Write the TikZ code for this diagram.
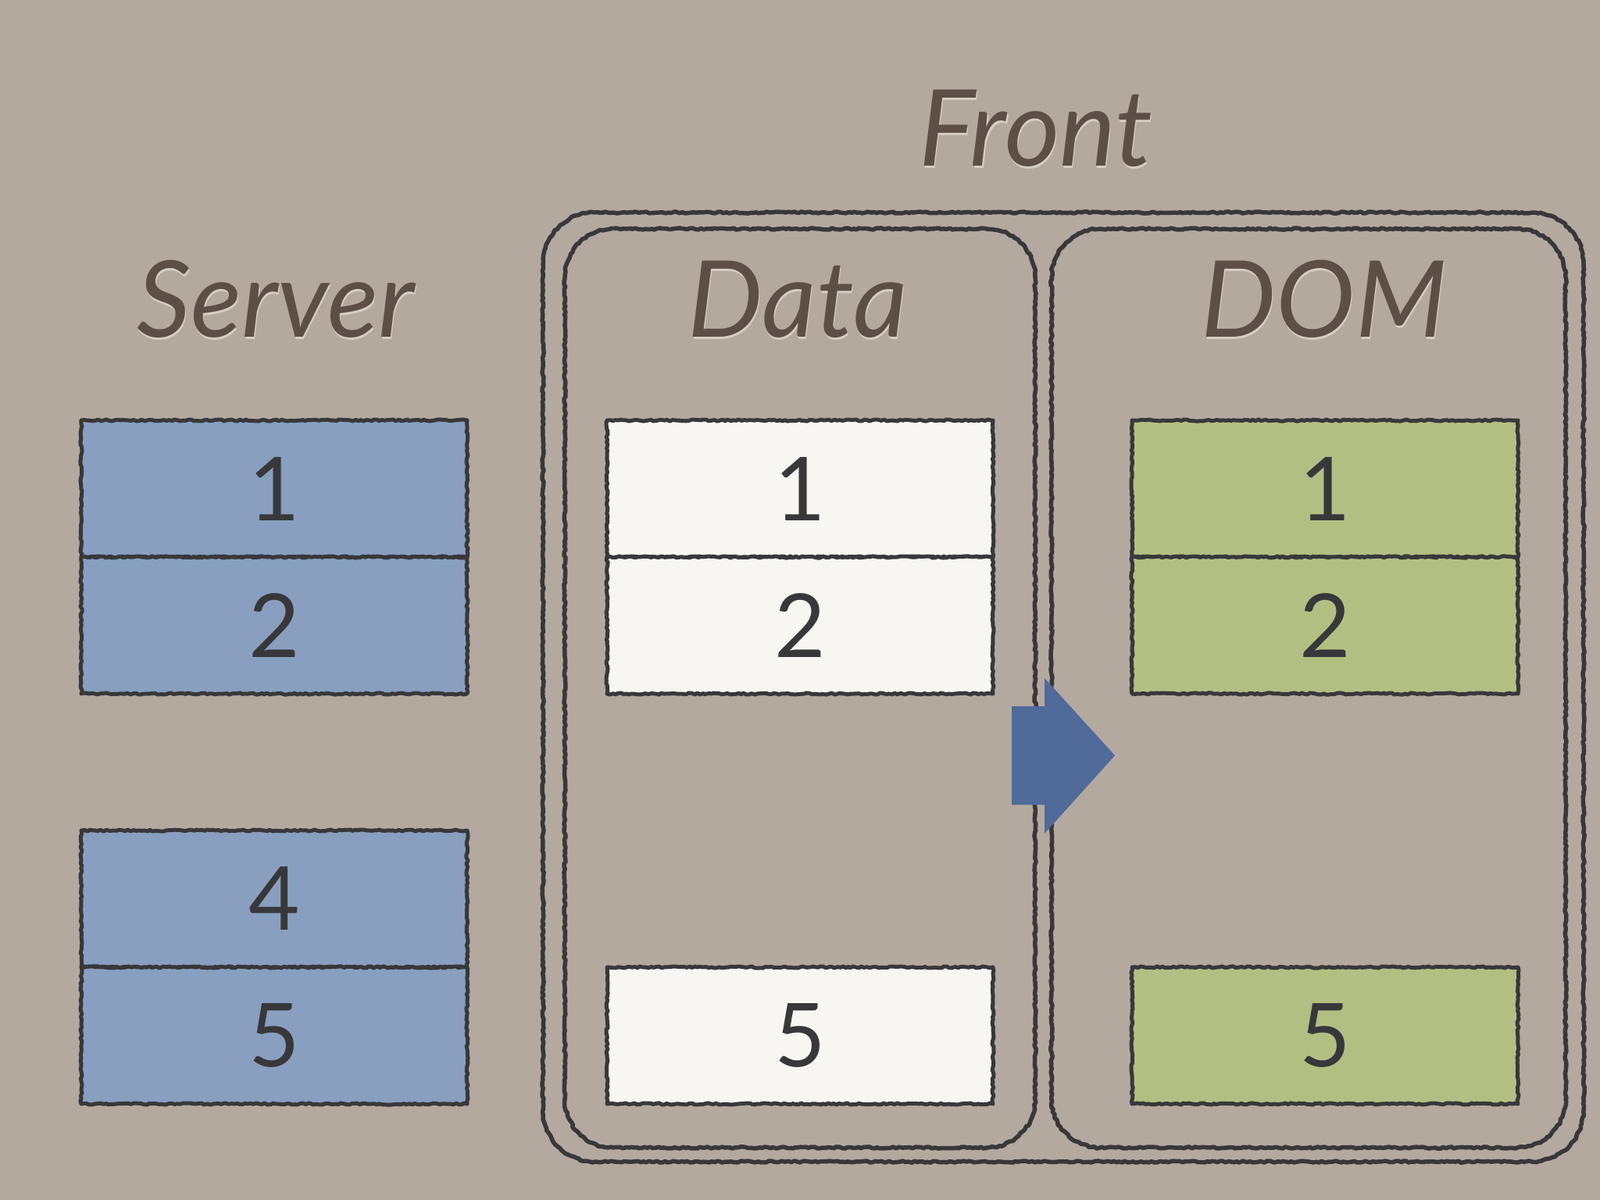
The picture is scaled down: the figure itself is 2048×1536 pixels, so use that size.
\documentclass[tikz,border=0pt]{standalone}
\usepackage{fontspec}
\setmainfont{Lato}
\usetikzlibrary{decorations.pathmorphing}
\definecolor{bg}{HTML}{B3A99F}
\definecolor{ink}{HTML}{38383A}
\definecolor{title}{HTML}{5B4F48}
\definecolor{glow}{HTML}{D6CEC4}
\definecolor{srvblue}{HTML}{889FBF}
\definecolor{datwhite}{HTML}{F8F6F3}
\definecolor{domgreen}{HTML}{B3BF82}
\definecolor{arrowblue}{HTML}{506A9A}
\tikzset{
  sketch/.style={decorate, decoration={random steps, segment length=3.5pt, amplitude=1.1pt}},
  frameline/.style={draw=ink, line width=5.5pt, line join=round, sketch},
  rowbox/.style={draw=ink, line width=5pt, line join=round, sketch, minimum width=494pt, minimum height=175pt,
    inner sep=0pt, text=ink, font=\fontsize{113}{120}\selectfont},
  srv/.style={rowbox, fill=srvblue},
  dat/.style={rowbox, fill=datwhite},
  dom/.style={rowbox, fill=domgreen},
  ttl/.style={anchor=base, inner sep=0pt, text=title, font=\fontsize{136}{140}\selectfont\itshape},
  ttlglow/.style={anchor=base, inner sep=0pt, text=glow, font=\fontsize{136}{140}\selectfont\itshape},
}
% rounded frame drawn with explicit corner curves: x1 y1 x2 y2 r
\newcommand\myrrect[5]{%
  \pgfmathsetmacro\ra{#5}%
  \pgfmathsetmacro\rk{0.448*#5}%
  \draw[frameline]
    ({#1+\ra},#2) -- ({#3-\ra},#2)
    .. controls ({#3-\rk},#2) and (#3,{#2+\rk}) .. (#3,{#2+\ra})
    -- (#3,{#4-\ra})
    .. controls (#3,{#4-\rk}) and ({#3-\rk},#4) .. ({#3-\ra},#4)
    -- ({#1+\ra},#4)
    .. controls ({#1+\rk},#4) and (#1,{#4-\rk}) .. (#1,{#4-\ra})
    -- (#1,{#2+\ra})
    .. controls (#1,{#2+\rk}) and ({#1+\rk},#2) .. ({#1+\ra},#2) -- cycle;}
\begin{document}
\begin{tikzpicture}[x=1pt,y=-1pt]
\useasboundingbox (0,0) rectangle (2048,1536);
\fill[bg] (0,0) rectangle (2048,1536);

% frames
\myrrect{695}{272}{2027}{1487}{66}
\myrrect{723}{293}{1325}{1469}{62}
\myrrect{1346}{293}{2004}{1469}{62}

% titles
\node[ttlglow] (frontg) at (1327,215) {Front};
\node[ttl] (front) at (1326,212) {Front};
\node[ttlglow] (serverg) at (354,434) {Server};
\node[ttl] (server) at (353,431) {Server};
\node[ttlglow] (datag) at (1022,434) {Data};
\node[ttl] (data) at (1021,431) {Data};
\node[ttlglow] (domg) at (1696,434) {DOM};
\node[ttl] (dom) at (1695,431) {DOM};

% server column
\node[srv] (s1) at (351,625.5) {1};
\node[srv] (s2) at (351,800.5) {2};
\node[srv] (s4) at (351,1150.5) {4};
\node[srv] (s5) at (351,1325.5) {5};

% data column
\node[dat] (d1) at (1024,625.5) {1};
\node[dat] (d2) at (1024,800.5) {2};
\node[dat] (d5) at (1024,1325.5) {5};

% dom column
\node[dom] (m1) at (1696,625.5) {1};
\node[dom] (m2) at (1696,800.5) {2};
\node[dom] (m5) at (1696,1325.5) {5};

% arrow
\fill[arrowblue] (1295,904) -- (1337,904) -- (1337,868) -- (1427,967) -- (1337,1067) -- (1337,1030) -- (1295,1030) -- cycle;
\end{tikzpicture}
\end{document}
